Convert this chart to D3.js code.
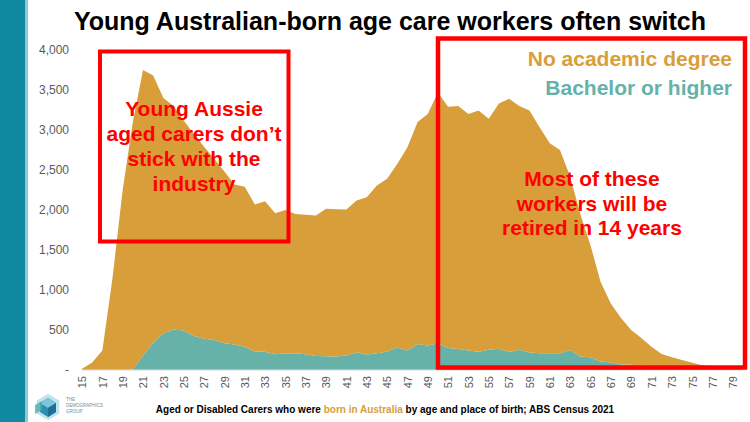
<!DOCTYPE html>
<html>
<head>
<meta charset="utf-8">
<script src="https://cdn.jsdelivr.net/npm/d3@7"></script>
<style>
  html, body { margin: 0; padding: 0; background: #fff; }
  svg { display: block; font-family: "Liberation Sans", Arial, sans-serif; }
</style>
</head>
<body>
<svg id="chart" width="750" height="422"></svg>
<script>
// ---- data ----
const ages = [15,16,17,18,19,20,21,22,23,24,25,26,27,28,29,30,31,32,33,34,35,36,37,38,39,40,
  41,42,43,44,45,46,47,48,49,50,51,52,53,54,55,56,57,58,59,60,61,62,63,64,65,66,67,68,69,70,
  71,72,73,74,75,76,77,78,79,80];
const bachelorOrHigher = [0,0,0,0,0,5,180,340,455,505,495,425,390,375,335,320,290,230,228,198,205,210,
  198,175,172,170,180,222,195,210,230,280,245,325,305,335,275,262,245,228,252,265,225,252,220,208,208,
  210,250,170,160,105,95,70,65,55,42,38,35,30,25,20,15,10,8,5];
const noAcademicDegree = [15,95,245,1150,2250,3095,3570,3340,2945,2795,2625,2525,2400,2265,2145,2000,2000,
  1840,1882,1762,1795,1740,1742,1755,1843,1840,1825,1898,1965,2095,2160,2295,2540,2775,2895,3135,3015,
  3038,2955,3017,2888,3065,3165,3048,3025,2827,2627,2540,2170,1780,1400,995,735,580,435,345,248,162,125,
  95,65,40,29,28,27,30];
const yTicks = [0,500,1000,1500,2000,2500,3000,3500,4000];
const xTickLabels = ages.filter(a => a % 2 === 1);
const seriesNames = ["No academic degree", "Bachelor or higher"];
const titleText = "Young Australian-born age care workers often switch";
const note1 = ["Young Aussie", "aged carers don\u2019t", "stick with the", "industry"];
const note2 = ["Most of these", "workers will be", "retired in 14 years"];

// ---- styles ----
const C_ORANGE = "#D89E39";
const C_TEAL = "#66B2A9";
const C_RED = "#FF0000";
const C_AXIS = "#595959";

const svg = d3.select("#chart");

// left band
svg.append("rect").attr("x",0).attr("y",0).attr("width",25).attr("height",422).attr("fill","#0F899F");
svg.append("rect").attr("x",25).attr("y",0).attr("width",3).attr("height",422).attr("fill","#8CCAD6");

const x = d3.scaleLinear().domain([15, 80]).range([82, 743]);
const y = d3.scaleLinear().domain([0, 4000]).range([370, 50]);

const rows = ages.map((a,i) => ({age:a, bach: bachelorOrHigher[i], nod: noAcademicDegree[i]}));
const stack = d3.stack().keys(["bach","nod"]);
const stacked = stack(rows);

const area = d3.area()
  .x(d => x(d.data.age))
  .y0(d => y(d[0]))
  .y1(d => y(d[1]));

svg.append("g").selectAll("path").data(stacked).join("path")
  .attr("d", area)
  .attr("fill", d => d.key === "bach" ? C_TEAL : C_ORANGE);

// baseline
svg.append("line").attr("x1", x(15)).attr("x2", x(80)).attr("y1", y(0)).attr("y2", y(0))
  .attr("stroke", "#d9d9d9").attr("stroke-width", 1);

// y axis
const yAxis = d3.axisLeft(y).tickValues(yTicks).tickSize(0).tickPadding(0)
  .tickFormat(d => d === 0 ? "-" : d3.format(",")(d));
const gy = svg.append("g").attr("transform", "translate(69,0)").call(yAxis);
gy.select(".domain").remove();
gy.selectAll("text").attr("fill", C_AXIS).attr("font-size", 12)
  .attr("font-family", "Liberation Sans, Arial, sans-serif");

// x axis
const xAxis = d3.axisBottom(x).tickValues(xTickLabels).tickSize(0).tickPadding(0).tickFormat(d3.format("d"));
const gx = svg.append("g").attr("transform", "translate(0,376)").call(xAxis);
gx.select(".domain").remove();
gx.selectAll("text")
  .attr("fill", C_AXIS).attr("font-size", 11)
  .attr("font-family", "Liberation Sans, Arial, sans-serif")
  .attr("text-anchor", "end")
  .attr("transform", "rotate(-90)")
  .attr("x", 0).attr("y", 0).attr("dy", "0.35em");

// title
svg.append("text").attr("x", 390).attr("y", 30).attr("text-anchor", "middle")
  .attr("font-size", 25).attr("font-weight", "bold").attr("fill", "#000").text(titleText);

// red boxes
svg.append("rect").attr("x",100).attr("y",51.5).attr("width",188.5).attr("height",190)
  .attr("fill","none").attr("stroke",C_RED).attr("stroke-width",4);
svg.append("rect").attr("x",438).attr("y",38.5).attr("width",307).attr("height",329)
  .attr("fill","none").attr("stroke",C_RED).attr("stroke-width",4.5);

// annotation texts
svg.append("g").selectAll("text").data(note1).join("text")
  .attr("x", 194).attr("y", (d,i) => 116 + i*25)
  .attr("text-anchor","middle").attr("font-size",21).attr("font-weight","bold").attr("fill",C_RED)
  .text(d => d);
svg.append("g").selectAll("text").data(note2).join("text")
  .attr("x", 592).attr("y", (d,i) => 186 + i*24.5)
  .attr("text-anchor","middle").attr("font-size",21).attr("font-weight","bold").attr("fill",C_RED)
  .text(d => d);

// legend
svg.append("g").selectAll("text").data(seriesNames).join("text")
  .attr("x", 732).attr("y", (d,i) => 66 + i*29)
  .attr("text-anchor","end").attr("font-size",21).attr("font-weight","bold")
  .attr("fill", (d,i) => i === 0 ? C_ORANGE : C_TEAL)
  .text(d => d);

// footer
const foot = svg.append("text").attr("x", 385).attr("y", 413).attr("text-anchor","middle")
  .attr("font-size", 10).attr("font-weight","bold").attr("fill","#000");
foot.append("tspan").text("Aged or Disabled Carers who were ");
foot.append("tspan").attr("fill", C_ORANGE).text("born in Australia");
foot.append("tspan").text(" by age and place of birth; ABS Census 2021");

// logo
const logo = svg.append("g").attr("transform","translate(48,407)");
const hex = (r) => d3.range(6).map(k => { const a = Math.PI/3*k + Math.PI/6; return [r*Math.cos(a), r*Math.sin(a)]; });
logo.append("polygon").attr("points", hex(13).map(p=>p.join(",")).join(" ")).attr("fill","#BFE3E6");
logo.append("polygon").attr("points", "0,-9 8,-4 8,5 0,10 -8,5 -8,-4").attr("fill","#2A8FB5");
logo.append("polygon").attr("points", "0,-9 8,-4 0,1 -8,-4").attr("fill","#7CC4D8");
logo.append("polygon").attr("points", "0,1 8,-4 8,5 0,10").attr("fill","#1B6F99");
logo.append("polygon").attr("points", "-13,-2 -6,-6 -6,3 -13,7").attr("fill","#4FB0A5").attr("opacity",0.8);
const lt = svg.append("g").attr("font-size",4.5).attr("fill","#6a8fa0").attr("font-family","Liberation Sans, Arial, sans-serif");
["THE","DEMOGRAPHICS","GROUP"].forEach((t,i) => lt.append("text").attr("x",66).attr("y",401 + i*6).text(t));
</script>
</body>
</html>
